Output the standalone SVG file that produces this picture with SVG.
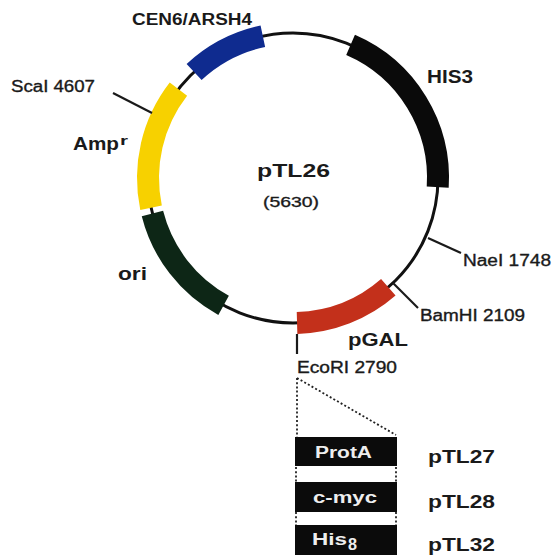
<svg xmlns="http://www.w3.org/2000/svg" width="552" height="555" viewBox="0 0 552 555">
  <style>
    .lbl { font-family: "Liberation Sans", Arial, sans-serif; fill: #1a1a1a; }
    .reg { stroke: #1a1a1a; stroke-width: 0.35; }
    .b { font-weight: bold; }
    .seg { fill: none; stroke-width: 22; stroke-linecap: butt; }
    .tick { stroke: #1a1a1a; stroke-width: 2.2; fill: none; }
    .dot { stroke: #222; stroke-width: 1.8; stroke-dasharray: 2 2.2; fill: none; }
    .box { fill: #0b0b0b; }
    .boxtxt { font-family: "Liberation Sans", Arial, sans-serif; fill: #eeeeee; font-size: 16px; font-weight: bold; }
  </style>
  <rect width="552" height="555" fill="#ffffff"/>

  <!-- plasmid backbone -->
  <g id="backbone">
    <circle cx="293" cy="178" r="145" fill="none" stroke="#111" stroke-width="3"/>
  </g>

  <!-- features on the map -->
  <g id="cen6-arsh4">
    <path class="seg" stroke="#0f2b8f" d="M194.1,71.95 A145,145 0 0 1 262.85,36.17"/>
    <text class="lbl b" x="132" y="25" font-size="16" textLength="120" lengthAdjust="spacingAndGlyphs">CEN6/ARSH4</text>
  </g>
  <g id="his3">
    <path class="seg" stroke="#0a0a0a" d="M350.58,44.92 A145,145 0 0 1 437.71,187.1"/>
    <text class="lbl b" x="427" y="83" font-size="19" textLength="46" lengthAdjust="spacingAndGlyphs">HIS3</text>
  </g>
  <g id="ampr">
    <path class="seg" stroke="#f7d100" d="M151.06,207.65 A145,145 0 0 1 178.42,89.13"/>
    <text class="lbl b" x="73" y="150" font-size="18" textLength="46" lengthAdjust="spacingAndGlyphs">Amp</text>
    <text class="lbl b" x="120" y="145" font-size="12" textLength="8" lengthAdjust="spacingAndGlyphs">r</text>
  </g>
  <g id="ori">
    <path class="seg" stroke="#0d2616" d="M223.59,305.31 A145,145 0 0 1 152.43,213.57"/>
    <text class="lbl b" x="118" y="280" font-size="19" textLength="29" lengthAdjust="spacingAndGlyphs">ori</text>
  </g>
  <g id="pgal">
    <path class="seg" stroke="#c3301b" d="M388.32,287.27 A145,145 0 0 1 297.05,322.94"/>
    <text class="lbl b" x="348" y="346" font-size="19" textLength="60" lengthAdjust="spacingAndGlyphs">pGAL</text>
  </g>
  <g id="title">
    <text class="lbl b" x="257" y="177" font-size="19" textLength="73" lengthAdjust="spacingAndGlyphs">pTL26</text>
    <text class="lbl reg" x="263" y="207" font-size="15" textLength="56" lengthAdjust="spacingAndGlyphs">(5630)</text>
  </g>

  <!-- restriction sites, insert expansion and tag cassettes -->
  <g id="connectors">
    <line class="tick" x1="113" y1="93" x2="152" y2="113"/>
    <line class="tick" x1="428" y1="238" x2="461" y2="253"/>
    <line class="tick" x1="393" y1="283" x2="418" y2="308"/>
    <line class="tick" x1="297" y1="334" x2="297" y2="354" stroke="#555"/>
    <path class="dot" d="M297,378 V437 M297,378 L396,435"/>
    <path class="dot" d="M296,467 V482 M396,467 V482 M296,512 V525 M396,512 V525"/>
  </g>

  <g id="scai">
    <text class="lbl reg" x="11" y="92" font-size="16" textLength="84" lengthAdjust="spacingAndGlyphs">ScaI 4607</text>
  </g>
  <g id="naei">
    <text class="lbl reg" x="463" y="266" font-size="16" textLength="88" lengthAdjust="spacingAndGlyphs">NaeI 1748</text>
  </g>
  <g id="bamhi">
    <text class="lbl reg" x="420" y="321" font-size="16" textLength="105" lengthAdjust="spacingAndGlyphs">BamHI 2109</text>
  </g>
  <g id="ecori">
    <text class="lbl reg" x="297" y="373" font-size="16" textLength="100" lengthAdjust="spacingAndGlyphs">EcoRI 2790</text>
  </g>

  <g id="prota">
    <rect class="box" x="295" y="437" width="102" height="29"/>
    <text class="boxtxt" x="315" y="458" textLength="57" lengthAdjust="spacingAndGlyphs">ProtA</text>
    <text class="lbl b" x="428" y="463" font-size="19" textLength="67" lengthAdjust="spacingAndGlyphs">pTL27</text>
  </g>
  <g id="cmyc">
    <rect class="box" x="295" y="482" width="102" height="30"/>
    <text class="boxtxt" x="313" y="503" textLength="64" lengthAdjust="spacingAndGlyphs">c-myc</text>
    <text class="lbl b" x="428" y="508" font-size="19" textLength="67" lengthAdjust="spacingAndGlyphs">pTL28</text>
  </g>
  <g id="his8">
    <rect class="box" x="295" y="525" width="102" height="30"/>
    <text class="boxtxt" x="312" y="545" font-size="20" textLength="35" lengthAdjust="spacingAndGlyphs">His</text>
    <text class="boxtxt" x="348" y="550" font-size="13" textLength="9" lengthAdjust="spacingAndGlyphs">8</text>
    <text class="lbl b" x="428" y="551" font-size="19" textLength="67" lengthAdjust="spacingAndGlyphs">pTL32</text>
  </g>
</svg>
